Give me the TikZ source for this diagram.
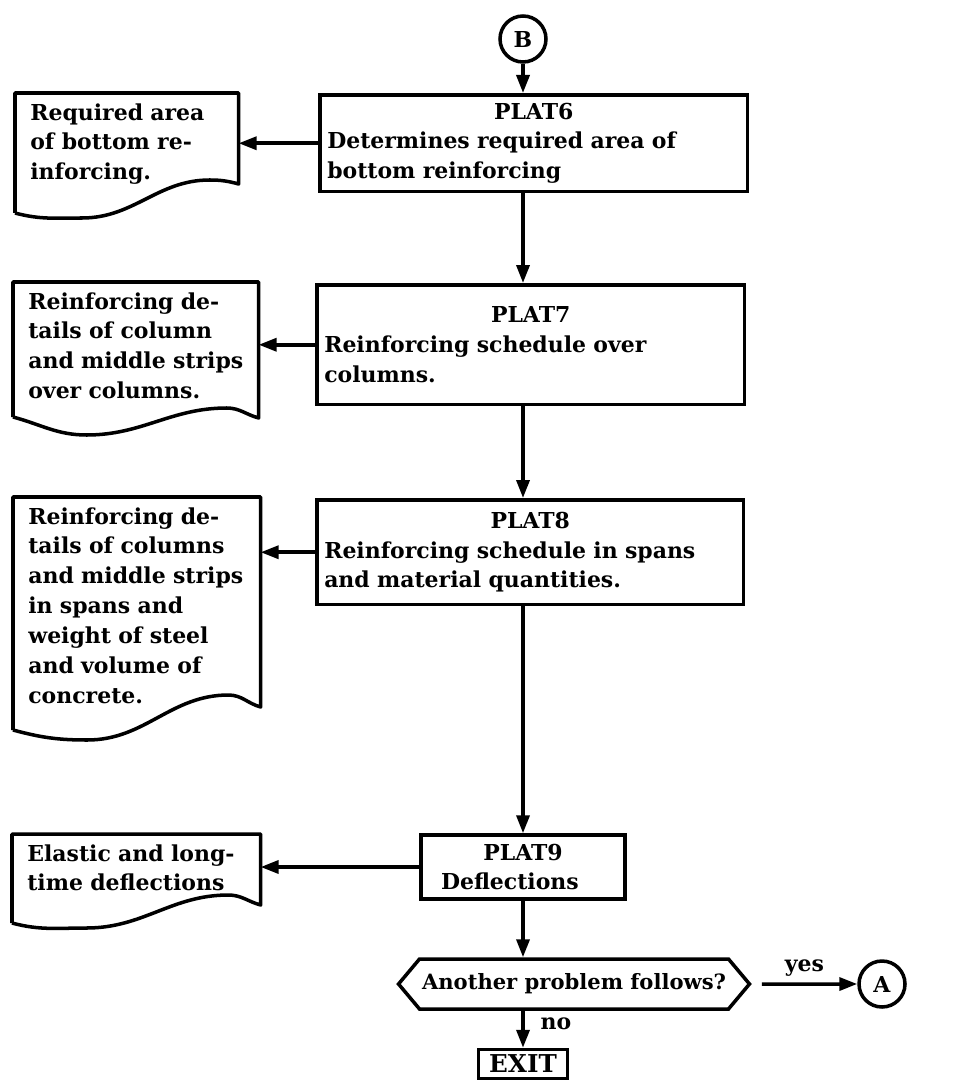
\documentclass[tikz,border=0pt]{standalone}
\usepackage{fontspec}
\setmainfont{DejaVu Serif}
\usetikzlibrary{shapes.symbols,arrows.meta,calc}
\tikzset{
  chartfont/.style={font=\fontsize{12.5}{17}\selectfont\bfseries},
  flow/.style={line width=2pt,-{Triangle[length=3.6mm,width=2.6mm]}},
  plat/.style={draw,line width=2pt,rectangle,anchor=north west,align=left,inner xsep=1.5mm,chartfont},
  doc/.style={anchor=north west,align=left,inner xsep=3mm,inner ysep=2mm,chartfont},
  docline/.style={line width=2pt,line join=round},
  connector/.style={draw,circle,line width=2pt,minimum size=9.2mm,inner sep=0pt,chartfont},
  decision/.style={draw,signal,signal to=west and east,signal pointer angle=100,line width=2pt,minimum height=10mm,inner xsep=0.5mm,inner ysep=0.5mm,font=\fontsize{12}{14}\selectfont\bfseries},
  exitbox/.style={draw,line width=2pt,minimum width=17.8mm,minimum height=5.8mm,inner sep=0.5mm,font=\fontsize{14}{16}\selectfont\bfseries}
}
\newcommand{\docoutline}[5]{%
  \draw[docline] ($(#1.north west)+(0,#2)$) -- (#1.north west) -- (#1.north east)
    -- ($(#1.north east)+(0,#3)$)
    to[out=165,in=0] ($(#1.north west)!0.87!(#1.north east)+(0,#4)$)
    to[out=180,in=0] ($(#1.north west)!0.3!(#1.north east)+(0,#5)$)
    to[out=180,in=-15] ($(#1.north west)+(0,#2)$);
}
\begin{document}
\begin{tikzpicture}[x=0.02cm,y=-0.02cm]
\path[use as bounding box] (0,0) rectangle (961,1084);
\node[connector] (B) at (523,39) {B};
\node[plat,text width=82.6mm,minimum height=19.4mm] (plat6) at (318,93) {\makebox[\linewidth]{PLAT6}\\Determines required area of\\bottom reinforcing};
\node[plat,text width=82.6mm,minimum height=24mm] (plat7) at (315,283) {\makebox[\linewidth]{PLAT7}\\Reinforcing schedule over\\columns.};
\node[plat,text width=82.4mm,minimum height=21mm] (plat8) at (315,498) {\makebox[\linewidth]{PLAT8}\\Reinforcing schedule in spans\\and material quantities.};
\node[plat,anchor=center,text width=32.8mm,inner xsep=4mm,minimum height=12.8mm] (plat9) at (523,867) {\makebox[\linewidth]{PLAT9}\\Deflections};
\node[decision] (dec) at (574,984) {Another problem follows?};
\node[exitbox] (exit) at (523,1064) {EXIT};
\node[connector] (A) at (882,984) {A};
\node[doc,text width=38.6mm] (doc1) at (15,93) {Required area\\of bottom re-\\inforcing.};
\node[doc,text width=43mm] (doc2) at (13,282) {Reinforcing de-\\tails of column\\and middle strips\\over columns.};
\node[doc,text width=43.4mm] (doc3) at (13,497) {Reinforcing de-\\tails of columns\\and middle strips\\in spans and\\weight of steel\\and volume of\\concrete.};
\node[doc,text width=43.6mm] (doc4) at (12,834) {Elastic and long-\\time deflections};
\docoutline{doc1}{120}{91}{87}{125}
\docoutline{doc2}{135}{136}{126}{153}
\docoutline{doc3}{233}{210}{198}{243}
\docoutline{doc4}{89}{71}{61}{94}
\draw[flow] (B) -- (plat6.north -| B);
\draw[flow] (plat6.south -| B) -- (plat7.north -| B);
\draw[flow] (plat7.south -| B) -- (plat8.north -| B);
\draw[flow] (plat8.south -| B) -- (plat9.north -| B);
\draw[flow] (plat9) -- (plat9 |- dec.north);
\draw[flow] (plat9 |- dec.south) -- node[pos=0.35,right=2mm,chartfont]{no} (exit);
\draw[flow,shorten <=2mm] (dec) -- node[above,chartfont]{yes} (A);
\draw[flow] (plat6) -- (plat6 -| doc1.east);
\draw[flow] (plat7) -- (plat7 -| doc2.east);
\draw[flow] (plat8) -- (plat8 -| doc3.east);
\draw[flow] (plat9) -- (plat9 -| doc4.east);
\end{tikzpicture}
\end{document}
